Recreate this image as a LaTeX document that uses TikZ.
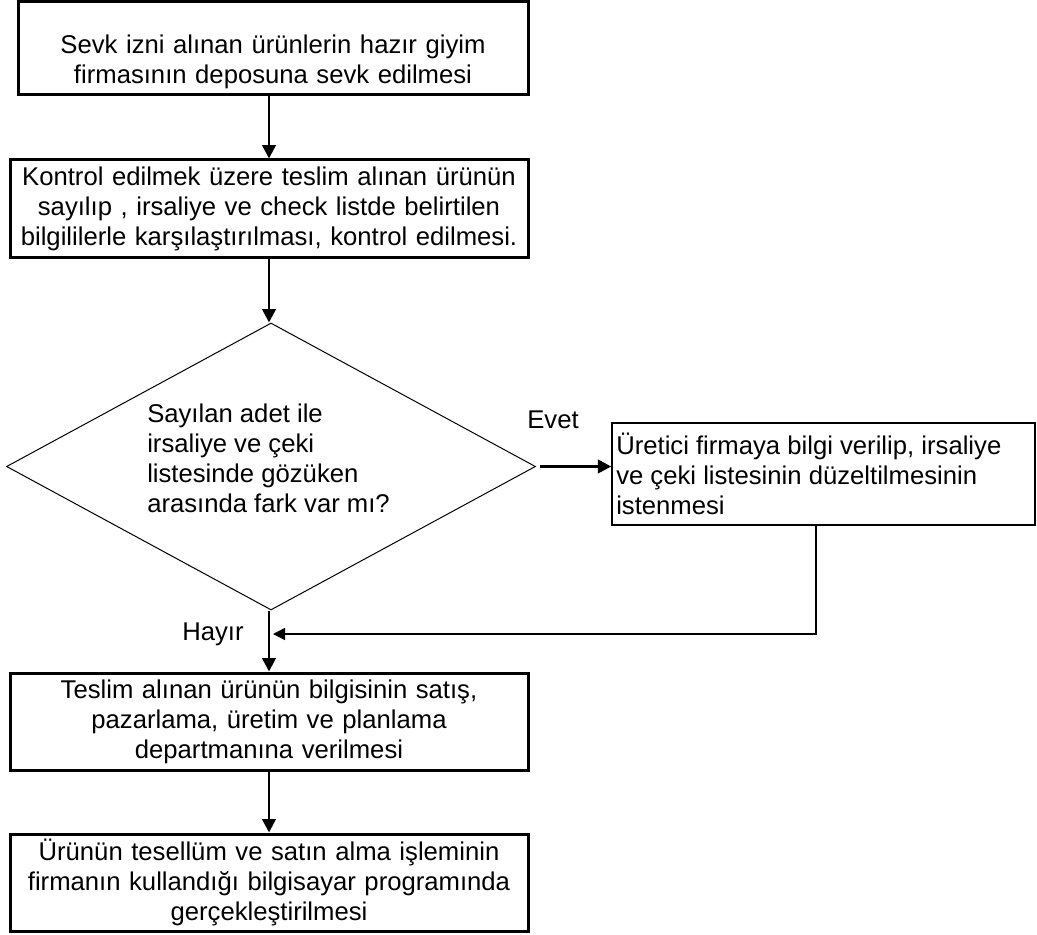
\documentclass[tikz,border=0pt]{standalone}
\usepackage{fontspec}
\setmainfont{Liberation Sans}
\usetikzlibrary{arrows.meta,shapes.geometric}
\begin{document}
\begin{tikzpicture}[x=0.75pt,y=-0.75pt,
  every node/.style={font=\fontsize{19.25}{22.5}\selectfont, inner sep=0pt},
  stepbox/.style={draw, line width=2.25pt, minimum width=388.5pt, minimum height=72.75pt},
  sidebox/.style={draw, line width=1.1pt, minimum width=317.25pt, minimum height=76.5pt},
  decision/.style={draw, diamond, line width=0.75pt, minimum width=396.75pt, minimum height=215.25pt},
  boxtext/.style={align=center, text width=385pt},
  flow/.style={-{Triangle[length=10pt,width=10pt]}, line width=2pt},
  backflow/.style={-{Triangle[length=9pt,width=9pt]}, line width=1.1pt}
]
\useasboundingbox (0,0) rectangle (1037,934);

% process steps
\node[stepbox, minimum width=382.5pt, minimum height=69.75pt] (s1) at (273,48.5) {};
\node[boxtext] (t1) at (273,62) {Sevk izni alınan ürünlerin hazır giyim\\firmasının deposuna sevk edilmesi};

\node[stepbox, boxtext] (s2) at (269,208.5) {Kontrol edilmek üzere teslim alınan ürünün\\sayılıp , irsaliye ve check listde belirtilen\\bilgililerle karşılaştırılması, kontrol edilmesi.};

% decision
\node[decision] (d) at (271,466.5) {};
\node[align=left, anchor=west] (dt) at (147,458) {Sayılan adet ile\\irsaliye ve çeki\\listesinde gözüken\\arasında fark var mı?};

% correction request
\node[sidebox] (r) at (823.5,474) {};
\node[align=left, anchor=west] (rt) at (616,474) {Üretici firmaya bilgi verilip, irsaliye\\ve çeki listesinin düzeltilmesinin\\istenmesi};

\node[stepbox, boxtext] (s4) at (269,721.5) {Teslim alınan ürünün bilgisinin satış,\\pazarlama, üretim ve planlama\\departmanına verilmesi};
\node[stepbox, boxtext] (s5) at (269,882.5) {Ürünün tesellüm ve satın alma işleminin\\firmanın kullandığı bilgisayar programında\\gerçekleştirilmesi};

% branch labels
\node (yes) at (553,420) {Evet};
\node (no) at (213,634) {Hayır};

% connectors
\coordinate (ret) at (816,634);
\draw[flow] (s1.south -| s2.north) -- (s2.north);
\draw[flow] (s2.south) -- (s2.south |- d.north);
\draw[flow] (d.east) ++(4,0) -- (d.east -| r.west);
\draw[flow] (d.south -| s4.north) -- (s4.north);
\draw[flow] (s4.south) -- (s5.north);
\draw[backflow] (r.south -| ret) -- (ret) -- ([xshift=3pt]ret -| s4.north);
\end{tikzpicture}
\end{document}
